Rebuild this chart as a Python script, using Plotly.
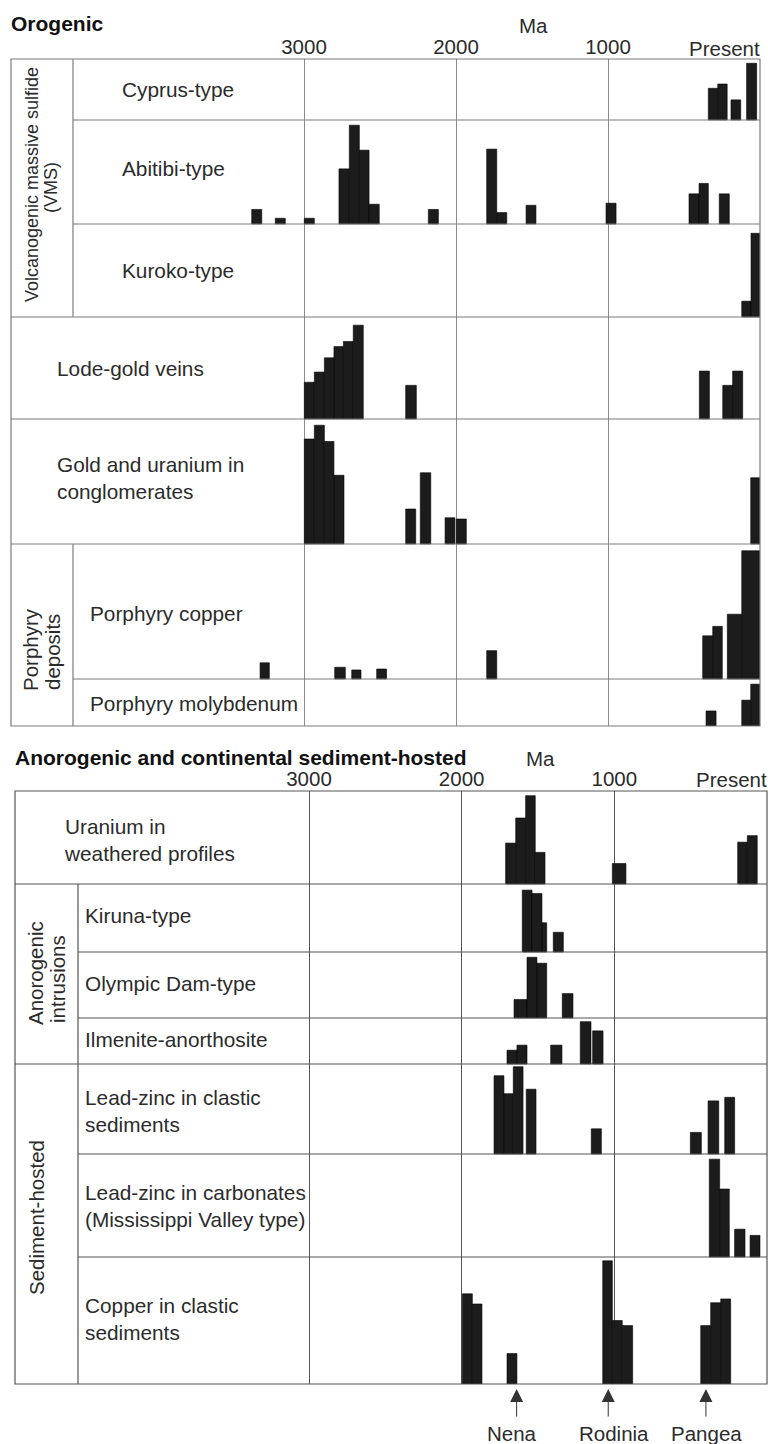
import plotly.graph_objects as go

# ---------------------------------------------------------------------------
# Deposit age histograms: (older bound Ma, younger bound Ma, relative abundance %)
# ---------------------------------------------------------------------------
cyprus_type = [(340, 278, 52), (278, 216, 59), (191, 127, 33), (88, 22, 93)]
abitibi_type = [(3344, 3278, 14), (3189, 3123, 5.5), (2998, 2932, 5.5),
                (2770, 2702, 53), (2702, 2636, 95), (2636, 2572, 71), (2572, 2505, 19),
                (2182, 2116, 14), (1798, 1732, 72), (1732, 1666, 11), (1539, 1474, 18),
                (1013, 947, 20), (467, 401, 29), (401, 340, 39), (268, 202, 29)]
kuroko_type = [(120, 59, 17), (59, 0, 90)]
lode_gold_veins = [(2998, 2932, 36), (2932, 2866, 46), (2866, 2803, 60), (2803, 2741, 71),
                   (2741, 2676, 76), (2676, 2610, 92), (2331, 2261, 33),
                   (399, 333, 47), (245, 180, 33), (180, 114, 47)]
gold_uranium_conglomerates = [(2998, 2932, 84), (2932, 2866, 95), (2866, 2803, 82),
                              (2803, 2737, 55), (2331, 2265, 28), (2235, 2166, 57),
                              (2072, 2007, 21), (1998, 1932, 20), (61, 0, 53)]
porphyry_copper = [(3289, 3228, 12), (2798, 2728, 8.7), (2686, 2625, 6.7), (2522, 2457, 7.4),
                   (1798, 1732, 21), (377, 311, 32), (311, 248, 39), (215, 120, 48), (120, 0, 95)]
porphyry_molybdenum = [(355, 289, 32), (120, 61, 55), (61, 0, 89)]

uranium_weathered = [(1712, 1646, 44), (1646, 1581, 71), (1581, 1518, 95), (1518, 1454, 34),
                     (1013, 924, 22), (192, 129, 45), (129, 64, 52)]
kiruna_type = [(1603, 1539, 91), (1539, 1474, 86), (1474, 1443, 43), (1400, 1334, 29)]
olympic_dam_type = [(1657, 1572, 28), (1572, 1507, 92), (1507, 1443, 83), (1341, 1271, 37)]
ilmenite_anorthosite = [(1703, 1638, 30), (1638, 1572, 41), (1417, 1343, 41),
                        (1223, 1153, 92), (1142, 1074, 72)]
leadzinc_clastic = [(1788, 1723, 87), (1723, 1662, 67), (1662, 1598, 97), (1577, 1513, 72),
                    (1151, 1085, 28), (502, 430, 24), (386, 316, 59), (277, 212, 63)]
leadzinc_carbonates = [(378, 310, 95), (310, 247, 66), (212, 144, 27), (111, 46, 21)]
copper_clastic = [(1996, 1930, 71), (1930, 1867, 63), (1703, 1638, 24),
                  (1076, 1013, 97), (1013, 948, 50), (948, 880, 46),
                  (434, 369, 46), (369, 303, 64), (303, 238, 67)]

# Time axis
age_ticks = [3000, 2000, 1000]
age_tick_text = ["3000", "2000", "1000"]

# Supercontinent assembly markers
supercontinents = ["Nena", "Rodinia", "Pangea"]
supercontinent_ages = [1640, 1040, 400]

# ---------------------------------------------------------------------------
# Page geometry (pixels)
# ---------------------------------------------------------------------------
W, H = 768, 1444
FONT = "Liberation Sans, Arial, Helvetica, sans-serif"
TXT = "#2b2b2b"
BAR = "#1c1c1c"
LABEL_SIZE = 20.8


def px(x):
    return x / W


def py(y):
    return 1 - y / H


PANELS = {
    "top": dict(xa="x", ya="y", left=11, right=760, top=59, bottom=726,
                zero=760, ppm=(760 - 304) / 3000, line="#7c7c7c", grid="#8c8c8c",
                inner=73, title="Orogenic", title_y=24, ma_x=533, tick_y=48),
    "bottom": dict(xa="x2", ya="y2", left=15, right=767, top=791, bottom=1384,
                   zero=767, ppm=(767 - 309) / 3000, line="#555555", grid="#555555",
                   inner=78, title="Anorogenic and continental sediment-hosted",
                   title_y=757, ma_x=540, tick_y=779),
}

# panel, data, row top, row bottom, label lines, label x, label block centre y,
# separator under the row starts at the group divider (True) or at the outer frame (False)
ROWS = [
    ("top", cyprus_type, 59, 120, ["Cyprus-type"], 120, 90, True),
    ("top", abitibi_type, 120, 224, ["Abitibi-type"], 120, 168, True),
    ("top", kuroko_type, 224, 317, ["Kuroko-type"], 120, 270, False),
    ("top", lode_gold_veins, 317, 419, ["Lode-gold veins"], 55, 368, False),
    ("top", gold_uranium_conglomerates, 419, 544,
     ["Gold and uranium in", "conglomerates"], 55, 478, False),
    ("top", porphyry_copper, 544, 679, ["Porphyry copper"], 88, 613, True),
    ("top", porphyry_molybdenum, 679, 726, ["Porphyry molybdenum"], 88, 703, None),
    ("bottom", uranium_weathered, 791, 884, ["Uranium in", "weathered profiles"], 62, 840, False),
    ("bottom", kiruna_type, 884, 952, ["Kiruna-type"], 83, 915, True),
    ("bottom", olympic_dam_type, 952, 1018, ["Olympic Dam-type"], 83, 983, True),
    ("bottom", ilmenite_anorthosite, 1018, 1064, ["Ilmenite-anorthosite"], 83, 1039, False),
    ("bottom", leadzinc_clastic, 1064, 1154, ["Lead-zinc in clastic", "sediments"], 83, 1111, True),
    ("bottom", leadzinc_carbonates, 1154, 1257,
     ["Lead-zinc in carbonates", "(Mississippi Valley type)"], 83, 1206, True),
    ("bottom", copper_clastic, 1257, 1384, ["Copper in clastic", "sediments"], 83, 1319, None),
]

fig = go.Figure()
shapes = []
annotations = []


def hline(x0, x1, y, color):
    shapes.append(dict(type="line", xref="paper", yref="paper", x0=px(x0), x1=px(x1),
                       y0=py(y), y1=py(y), line=dict(color=color, width=1.2)))


def vline(x, y0, y1, color):
    shapes.append(dict(type="line", xref="paper", yref="paper", x0=px(x), x1=px(x),
                       y0=py(y0), y1=py(y1), line=dict(color=color, width=1.2)))


# ---- histogram bars (one trace per deposit type), row labels, row separators ----
for panel, data, top, bottom, lines, lx, ly, inner_sep in ROWS:
    p = PANELS[panel]
    row_h = bottom - top
    older = [d[0] for d in data]
    younger = [d[1] for d in data]
    abund = [d[2] for d in data]
    fig.add_trace(go.Bar(
        x=[(o + y) / 2 for o, y in zip(older, younger)],
        width=[o - y for o, y in zip(older, younger)],
        base=[bottom] * len(data),
        y=[-a / 100 * row_h for a in abund],
        xaxis=p["xa"], yaxis=p["ya"],
        marker=dict(color=BAR, line=dict(color="#000000", width=0.6)),
        name=" ".join(lines), showlegend=False, hoverinfo="skip",
    ))
    annotations.append(dict(
        x=px(lx), y=py(ly), xref="paper", yref="paper", text="<br>".join(lines),
        xanchor="left", yanchor="middle", align="left", showarrow=False,
        font=dict(family=FONT, size=LABEL_SIZE, color=TXT)))
    if inner_sep is not None:
        hline(p["inner"] if inner_sep else p["left"], p["right"], bottom, p["line"])

# ---- outer frames and group divider columns ----
for p in PANELS.values():
    shapes.append(dict(type="rect", xref="paper", yref="paper",
                       x0=px(p["left"]), x1=px(p["right"]), y0=py(p["bottom"]), y1=py(p["top"]),
                       line=dict(color=p["line"], width=1.2), fillcolor="rgba(0,0,0,0)"))
vline(PANELS["top"]["inner"], 59, 317, PANELS["top"]["line"])
vline(PANELS["top"]["inner"], 544, 726, PANELS["top"]["line"])
vline(PANELS["bottom"]["inner"], 884, 1384, PANELS["bottom"]["line"])

# ---- panel titles, "Ma", "Present" ----
for key, p in PANELS.items():
    annotations.append(dict(x=px(p["left"]) - 0.002, y=py(p["title_y"]), xref="paper", yref="paper",
                            text=f"<b>{p['title']}</b>", xanchor="left", yanchor="middle",
                            showarrow=False, font=dict(family=FONT, size=21, color="#111111")))
    annotations.append(dict(x=px(p["ma_x"]), y=py(p["title_y"] + 1), xref="paper", yref="paper",
                            text="Ma", xanchor="center", yanchor="middle", showarrow=False,
                            font=dict(family=FONT, size=20.5, color=TXT)))
    annotations.append(dict(x=0, y=py(p["tick_y"]), xref=p["xa"], yref="paper",
                            text="Present", xanchor="right", yanchor="middle", showarrow=False,
                            xshift=2, font=dict(family=FONT, size=20.5, color=TXT)))

# ---- rotated group labels: text, centre x, centre y, font size ----
rotated = [
    ("Volcanogenic massive sulfide", 32, 185, 18),
    ("(VMS)", 51, 188, 18),
    ("Porphyry", 30, 650, 20.5),
    ("deposits", 52, 652, 20.5),
    ("Anorogenic", 36, 973, 20.5),
    ("intrusions", 57, 979, 20.5),
    ("Sediment-hosted", 36, 1218, 20.5),
]
for text, x, y, size in rotated:
    annotations.append(dict(x=px(x), y=py(y), xref="paper", yref="paper", text=text,
                            textangle=-90, xanchor="center", yanchor="middle", showarrow=False,
                            font=dict(family=FONT, size=size, color=TXT)))

# ---- supercontinent arrows ----
label_shift = [-5, 6, 1]
for name, age, dx in zip(supercontinents, supercontinent_ages, label_shift):
    annotations.append(dict(x=age, y=py(1389), xref="x2", yref="paper", text="",
                            showarrow=True, ax=0, ay=29, arrowhead=2, arrowsize=2.6,
                            arrowwidth=1, arrowcolor="#333333", standoff=0))
    annotations.append(dict(x=age, y=py(1433), xref="x2", yref="paper", text=name,
                            xshift=dx, xanchor="center", yanchor="middle", showarrow=False,
                            font=dict(family=FONT, size=20.5, color=TXT)))


def age_axis(p, anchor):
    return dict(domain=[px(p["left"]), px(p["right"])],
                range=[(p["zero"] - p["left"]) / p["ppm"], (p["zero"] - p["right"]) / p["ppm"]],
                tickvals=age_ticks, ticktext=age_tick_text, side="top", ticks="",
                showgrid=True, gridcolor=p["grid"], gridwidth=1.2, zeroline=False,
                showline=False, anchor=anchor, fixedrange=True,
                tickfont=dict(family=FONT, size=20.5, color=TXT))


def row_axis(p):
    return dict(domain=[py(p["bottom"]), py(p["top"])], range=[p["bottom"], p["top"]],
                visible=False, showgrid=False, zeroline=False, fixedrange=True)


fig.update_layout(
    width=W, height=H, margin=dict(l=0, r=0, t=0, b=0),
    paper_bgcolor="white", plot_bgcolor="white",
    barmode="overlay", showlegend=False,
    xaxis=age_axis(PANELS["top"], "y"),
    yaxis=row_axis(PANELS["top"]),
    xaxis2=age_axis(PANELS["bottom"], "y2"),
    yaxis2=row_axis(PANELS["bottom"]),
    shapes=shapes, annotations=annotations,
    font=dict(family=FONT, color=TXT),
)

fig.write_html("out.html")
